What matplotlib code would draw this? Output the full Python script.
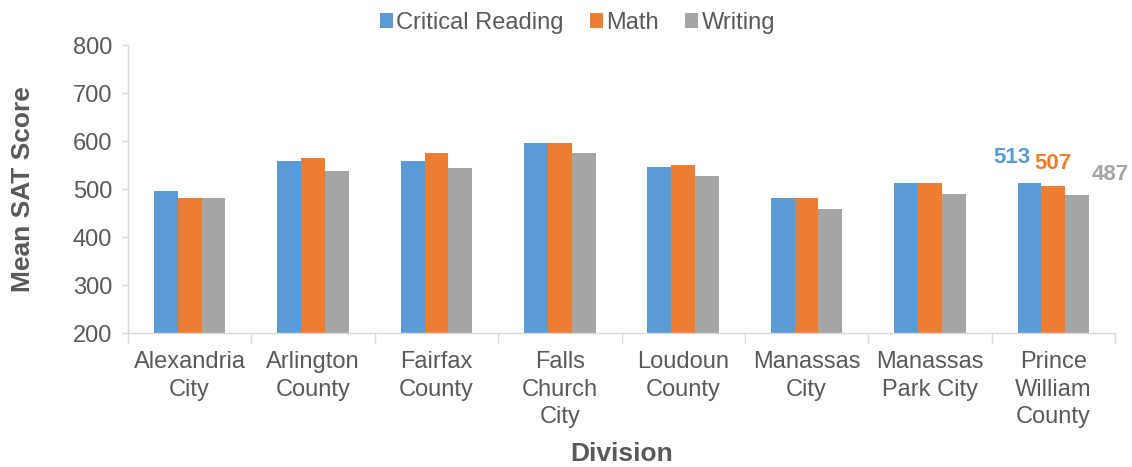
import numpy as np
import matplotlib.pyplot as plt

plt.rcParams['font.family'] = ['Liberation Sans', 'DejaVu Sans']

divisions = ['Alexandria\nCity', 'Arlington\nCounty', 'Fairfax\nCounty', 'Falls\nChurch\nCity',
             'Loudoun\nCounty', 'Manassas\nCity', 'Manassas\nPark City', 'Prince\nWilliam\nCounty']
reading = [496, 559, 559, 596, 545, 481, 512, 513]
math = [482, 565, 575, 595, 549, 481, 513, 507]
writing = [482, 537, 543, 574, 528, 458, 490, 487]

c_read = '#5b9bd5'
c_math = '#ed7d31'
c_write = '#a5a5a5'
axis_gray = '#d9d9d9'
text_gray = '#595959'

fig = plt.figure(figsize=(11.32, 4.67), dpi=100)
ax = fig.add_axes([128/1132, 1 - 333/467, (1115-128)/1132, (333-45)/467])

x = np.arange(len(divisions))
w = 0.193
ax.bar(x - w, reading, w, color=c_read, label='Critical Reading')
ax.bar(x, math, w, color=c_math, label='Math')
ax.bar(x + w, writing, w, color=c_write, label='Writing')

ax.set_xlim(-0.5, len(divisions) - 0.5)
ax.set_ylim(200, 800)
ax.set_yticks(range(200, 801, 100))
ax.set_xticks(x)
ax.set_xticklabels(divisions, fontsize=17, color=text_gray, linespacing=1.33)
ax.set_xticks(np.arange(-0.5, len(divisions), 1), minor=True)
ax.tick_params(axis='x', which='major', length=0, pad=13)
ax.tick_params(axis='x', which='minor', length=7, color=axis_gray, width=1)
ax.tick_params(axis='y', labelsize=17, labelcolor=text_gray, color=axis_gray, length=4.5, width=1, pad=7)

for s in ['top', 'right']:
    ax.spines[s].set_visible(False)
for s in ['left', 'bottom']:
    ax.spines[s].set_color(axis_gray)
    ax.spines[s].set_linewidth(1)

ax.set_ylabel('Mean SAT Score', fontsize=19, fontweight='bold', color=text_gray, labelpad=27)
ax.set_xlabel('Division', fontsize=19, fontweight='bold', color=text_gray, labelpad=10)

# data labels on last group
i = len(divisions) - 1
ax.annotate(str(reading[i]), (x[i] - w, reading[i]), xytext=(-13, 18), textcoords='offset points',
            ha='center', va='center', fontsize=16, fontweight='bold', color=c_read)
ax.annotate(str(math[i]), (x[i], math[i]), xytext=(0, 16), textcoords='offset points',
            ha='center', va='center', fontsize=16, fontweight='bold', color=c_math)
ax.annotate(str(writing[i]), (x[i] + w, writing[i]), xytext=(24, 15), textcoords='offset points',
            ha='center', va='center', fontsize=16, fontweight='bold', color=c_write)

fig.legend(loc='upper center', bbox_to_anchor=(0.51, 1.02), ncol=3, frameon=False,
           fontsize=17, handlelength=0.55, handleheight=0.65, handletextpad=0.15,
           columnspacing=1.1, labelcolor=text_gray)

fig.savefig('out.png', dpi=100)
